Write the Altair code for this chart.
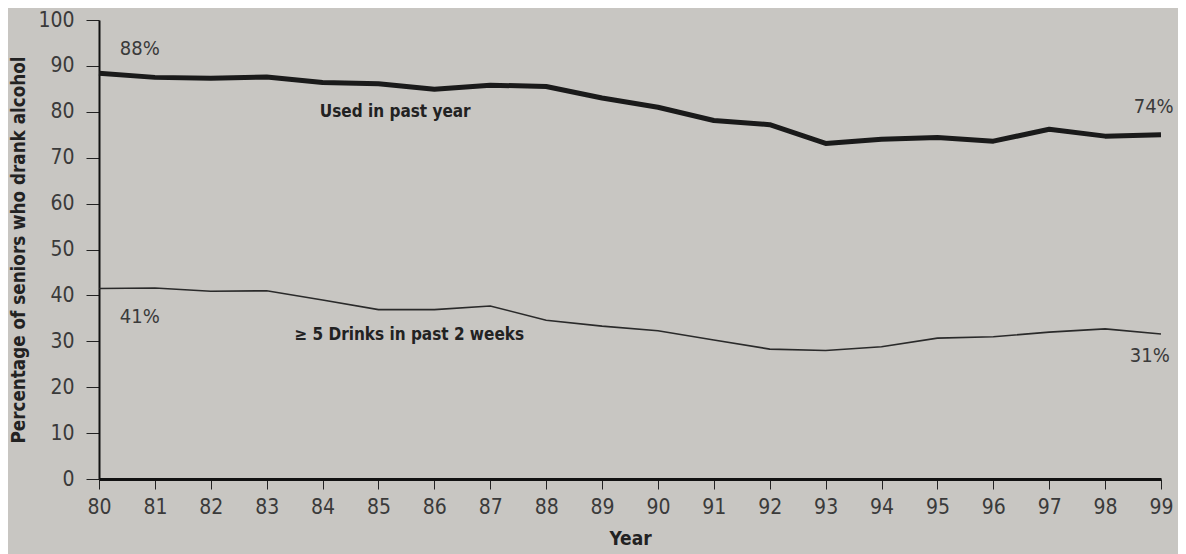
import altair as alt
import pandas as pd

years = list(range(80, 100))
used_past_year = [88.4, 87.5, 87.3, 87.6, 86.4, 86.1, 84.9, 85.8, 85.5, 83.0,
                  81.0, 78.1, 77.2, 73.1, 74.0, 74.4, 73.6, 76.2, 74.7, 75.0]
five_drinks = [41.5, 41.6, 40.9, 41.0, 39.0, 36.9, 36.9, 37.7, 34.6, 33.3,
               32.3, 30.3, 28.3, 28.0, 28.8, 30.7, 31.0, 32.0, 32.7, 31.6]

pct_labels = ["88%", "74%", "41%", "31%"]
pct_x = [80.73, 98.87, 80.73, 98.80]
pct_y = [93.7, 81.0, 35.3, 26.8]

series_labels = ["Used in past year", "\u2265 5 Drinks in past 2 weeks"]
series_lx = [85.3, 85.55]
series_ly = [80.0, 31.4]

FONT = "'DejaVu Sans Condensed', 'Roboto Condensed', 'Liberation Sans Narrow', Roboto, sans-serif"

df = pd.DataFrame({"year": years, "used": used_past_year, "binge": five_drinks})
pct_df = pd.DataFrame({"x": pct_x, "y": pct_y, "t": pct_labels})
lab_df = pd.DataFrame({"x": series_lx, "y": series_ly, "t": series_labels})

xscale = alt.Scale(domain=[80, 99], nice=False, zero=False)
yscale = alt.Scale(domain=[0, 100], nice=False)

xaxis = alt.Axis(values=years, format="d", title="Year", grid=False, labelFlush=False,
                 domainColor="#111", domainWidth=3, tickColor="#222", tickSize=10,
                 tickWidth=1, labelFont=FONT, labelFontSize=21, labelColor="#3a3a3a",
                 labelPadding=7, titleFont=FONT, titleFontSize=19, titleFontWeight="bold",
                 titleColor="#222", titlePadding=12)
yaxis = alt.Axis(values=list(range(0, 101, 10)), title="Percentage of seniors who drank alcohol",
                 grid=False, labelFlush=False, domainColor="#111", domainWidth=2,
                 tickColor="#222", tickSize=13,
                 tickWidth=1, labelFont=FONT, labelFontSize=21, labelColor="#3a3a3a",
                 labelPadding=12, titleFont=FONT, titleFontSize=18.7, titleFontWeight="bold",
                 titleColor="#222", titleX=-81, titleY=229.5, titleAngle=-90,
                 titleBaseline="middle", titleAlign="center")

base = alt.Chart(df)

used_line = base.mark_line(color="#1a1a1a", strokeWidth=5, strokeJoin="round").encode(
    x=alt.X("year:Q", scale=xscale, axis=xaxis),
    y=alt.Y("used:Q", scale=yscale, axis=yaxis),
)
binge_line = base.mark_line(color="#2a2a2a", strokeWidth=1.6).encode(
    x=alt.X("year:Q", scale=xscale),
    y=alt.Y("binge:Q", scale=yscale),
)

pct_text = alt.Chart(pct_df).mark_text(font=FONT, fontSize=20, color="#3a3a3a",
                                       align="center", baseline="middle").encode(
    x=alt.X("x:Q", scale=xscale), y=alt.Y("y:Q", scale=yscale), text="t:N")

lab_text = alt.Chart(lab_df).mark_text(font=FONT, fontSize=17, fontWeight="bold",
                                       color="#222", align="center", baseline="middle").encode(
    x=alt.X("x:Q", scale=xscale), y=alt.Y("y:Q", scale=yscale), text="t:N")

chart = alt.layer(used_line, binge_line, pct_text, lab_text).properties(
    width=1062, height=459,
    autosize=alt.AutoSizeParams(type="none"),
    padding={"left": 91, "top": 12, "right": 17, "bottom": 75},
    background="#c8c6c2",
).configure_view(stroke=None)

chart.save("out.html", embed_options={"renderer": "svg", "actions": False})
